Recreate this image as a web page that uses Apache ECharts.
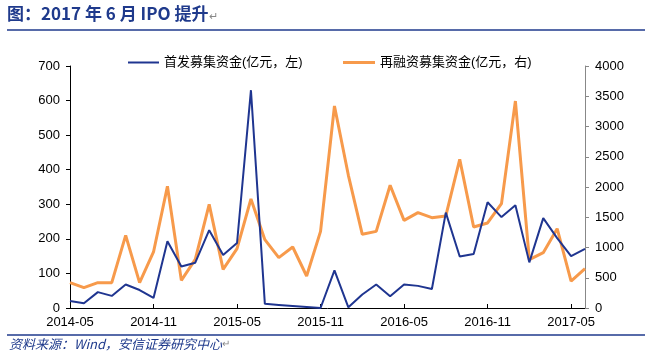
<!DOCTYPE html>
<html><head><meta charset="utf-8">
<script src="https://cdn.jsdelivr.net/npm/echarts@6/dist/echarts.min.js"></script>
<style>html,body{margin:0;padding:0;background:#fff}#c{width:645px;height:362px}</style>
</head><body><div id="c"></div>
<script>
const months = ['2014-05','2014-06','2014-07','2014-08','2014-09','2014-10','2014-11','2014-12',
'2015-01','2015-02','2015-03','2015-04','2015-05','2015-06','2015-07','2015-08','2015-09','2015-10','2015-11','2015-12',
'2016-01','2016-02','2016-03','2016-04','2016-05','2016-06','2016-07','2016-08','2016-09','2016-10','2016-11','2016-12',
'2017-01','2017-02','2017-03','2017-04','2017-05','2017-06'];
const ipo = [20,14,46,35,68,52,29,193,120,131,225,153,188,630,12,9,6,3,0,109,2,39,68,34,68,64,55,276,149,156,306,263,297,132,260,202,150,171];
const refi = [419,336,419,419,1201,419,926,2011,457,804,1713,639,981,1802,1129,832,1008,529,1267,3339,2193,1218,1267,2028,1449,1576,1493,1521,2457,1339,1405,1725,3421,799,915,1311,446,650];
const leftTicks = [0,700,100];
const rightTicks = [0,4000,500];
const nameIpo = '首发募集资金(亿元，左)';
const nameRefi = '再融资募集资金(亿元，右)';
const titleText = '图：2017 年 6 月 IPO 提升';
const sourceText = '资料来源：Wind，安信证券研究中心';

const ff = '"Liberation Sans", Arial, "Noto Sans CJK SC", sans-serif';
const navy = '#1f3a8c';
const chart = echarts.init(document.getElementById('c'));
chart.setOption({
  animation: false,
  textStyle: {fontFamily: ff},
  grid: {left: 70, right: 60, top: 66, bottom: 54},
  graphic: [
    {type: 'text', left: 7, top: 5, style: {text: titleText + '{r|↵}', fontSize: 17, fontWeight: 'bold',
      fontFamily: '"Noto Sans CJK SC", sans-serif', fill: navy,
      rich: {r: {fontSize: 11, fontWeight: 'normal', fill: '#888', padding: [6, 0, 0, 1]}}}},
    {type: 'line', shape: {x1: 7, y1: 30, x2: 645, y2: 30}, style: {stroke: navy, lineWidth: 1.5}},
    {type: 'line', shape: {x1: 7, y1: 335, x2: 645, y2: 335}, style: {stroke: navy, lineWidth: 1.5}},
    {type: 'text', left: 9, top: 338, style: {text: sourceText + '{r|↵}', fontSize: 13, fontStyle: 'italic',
      fontFamily: '"Noto Sans CJK SC", sans-serif', fill: navy,
      rich: {r: {fontSize: 10, fontStyle: 'normal', fill: '#888'}}}}
  ],
  legend: [
    {data: [nameIpo], left: 123, top: 51, icon: 'rect', itemWidth: 31, itemHeight: 2, itemGap: 6,
     textStyle: {fontSize: 13, color: '#000', fontFamily: ff}},
    {data: [nameRefi], left: 338, top: 51, icon: 'rect', itemWidth: 32, itemHeight: 3, itemGap: 6,
     textStyle: {fontSize: 13, color: '#000', fontFamily: ff}}
  ],
  xAxis: {
    type: 'category', data: months, boundaryGap: false,
    axisLine: {lineStyle: {color: '#000', width: 1}},
    axisTick: {inside: true, length: 4, interval: 5, lineStyle: {color: '#000'}},
    axisLabel: {interval: 5, color: '#000', fontSize: 13, margin: 8}
  },
  yAxis: [
    {type: 'value', min: leftTicks[0], max: leftTicks[1], interval: leftTicks[2], splitLine: {show: false},
     axisLine: {show: true, lineStyle: {color: '#000'}}, axisTick: {show: true, length: 4, lineStyle: {color: '#000'}},
     axisLabel: {color: '#000', fontSize: 13, margin: 10, formatter: v => String(v)}},
    {type: 'value', min: rightTicks[0], max: rightTicks[1], interval: rightTicks[2], splitLine: {show: false},
     axisLine: {show: true, lineStyle: {color: '#888'}}, axisTick: {show: true, length: 4, lineStyle: {color: '#888'}},
     axisLabel: {color: '#000', fontSize: 13, margin: 10, formatter: v => String(v)}}
  ],
  series: [
    {name: nameIpo, type: 'line', yAxisIndex: 0, data: ipo, symbol: 'none', z: 3,
     lineStyle: {color: '#1f3590', width: 2}, itemStyle: {color: '#1f3590'}},
    {name: nameRefi, type: 'line', yAxisIndex: 1, data: refi, symbol: 'none', z: 2,
     lineStyle: {color: '#f79a4b', width: 3}, itemStyle: {color: '#f79a4b'}}
  ]
});
</script></body></html>
